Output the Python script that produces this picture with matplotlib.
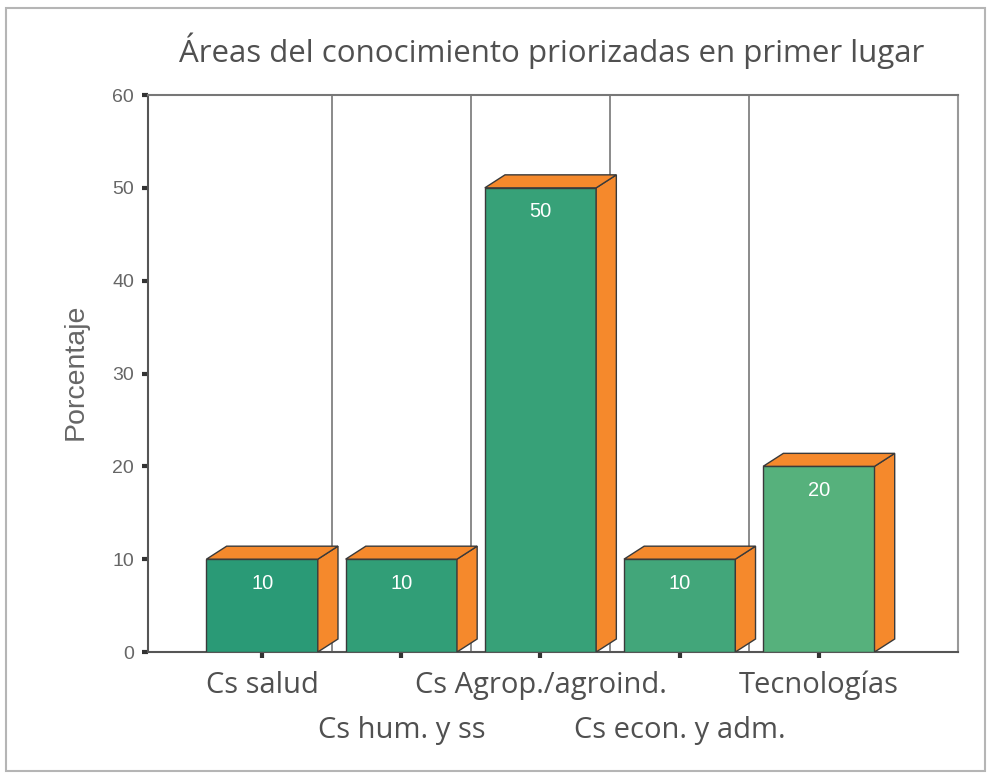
import matplotlib
matplotlib.use("Agg")
import matplotlib.pyplot as plt
from matplotlib.patches import Polygon, Rectangle

# data
categorias = ["Cs salud", "Cs hum. y ss", "Cs Agrop./agroind.",
              "Cs econ. y adm.", "Tecnologías"]
porcentajes = [10, 10, 50, 10, 20]
titulo = "Áreas del conocimiento priorizadas en primer lugar"
eje_y = "Porcentaje"

# estilo
verdes = ["#2a9a76", "#319e77", "#37a178", "#42a67a", "#56b17c"]
naranja = "#f5892c"
borde = "#3a3a3a"
ancho = 0.8
dx, dy = 0.145, 1.4

fig = plt.figure(figsize=(9.9, 7.75), dpi=100)
ax = fig.add_axes([0.1495, 0.1587, 0.8182, 0.7187])

x = list(range(len(categorias)))
ax.vlines([i + 0.5 for i in x[:-1]], 0, 60, color="#777777", lw=1.2, zorder=1)

ax.bar(x, porcentajes, width=ancho, color=verdes, edgecolor=borde,
       linewidth=1.0, zorder=3)
for i, v in zip(x, porcentajes):
    der = i + ancho / 2
    izq = i - ancho / 2
    lado = Polygon([(der, 0), (der + dx, dy), (der + dx, v + dy), (der, v)],
                   closed=True, facecolor=naranja, edgecolor=borde, lw=1.0, zorder=3)
    tapa = Polygon([(izq, v), (izq + dx, v + dy), (der + dx, v + dy), (der, v)],
                   closed=True, facecolor=naranja, edgecolor=borde, lw=1.0, zorder=3)
    ax.add_patch(lado)
    ax.add_patch(tapa)
    ax.text(i, v - 2.6, str(v), color="white", fontsize=14.5, ha="center",
            va="center", family="Liberation Sans", zorder=4)

ax.set_xlim(-0.82, 5.0)
ax.set_ylim(0, 60)
ax.set_yticks(range(0, 70, 10))
ax.set_xticks(x)
ax.set_xticklabels(categorias, fontsize=21, color="#505050", family="Open Sans")
for k, t in enumerate(ax.xaxis.get_major_ticks()):
    t.set_pad(9.5 if k % 2 == 0 else 42)

ax.tick_params(axis="y", length=4, width=3, color="#333333", pad=6,
               labelsize=14, labelcolor="#666666")
for lab in ax.get_yticklabels():
    lab.set_family("Liberation Sans")
ax.tick_params(axis="x", length=4, width=3, color="#333333")

ax.spines["left"].set_color("#555555")
ax.spines["bottom"].set_color("#555555")
ax.spines["top"].set_color("#777777")
ax.spines["right"].set_color("#999999")
for s in ax.spines.values():
    s.set_linewidth(1.5)

fig.text(0.557, 0.935, titulo, ha="center", va="center", fontsize=22.5,
         color="#505050", family="Open Sans")
fig.text(0.076, 1 - 372 / 775, eje_y, ha="center", va="center", rotation=90,
         fontsize=20.5, color="#666666", family="Liberation Sans")

fig.patches.append(Rectangle((0.006, 0.005), 0.989, 0.985, transform=fig.transFigure,
                             fill=False, edgecolor="#b5b5b5", lw=1.5))

fig.savefig("out.png", dpi=100)
